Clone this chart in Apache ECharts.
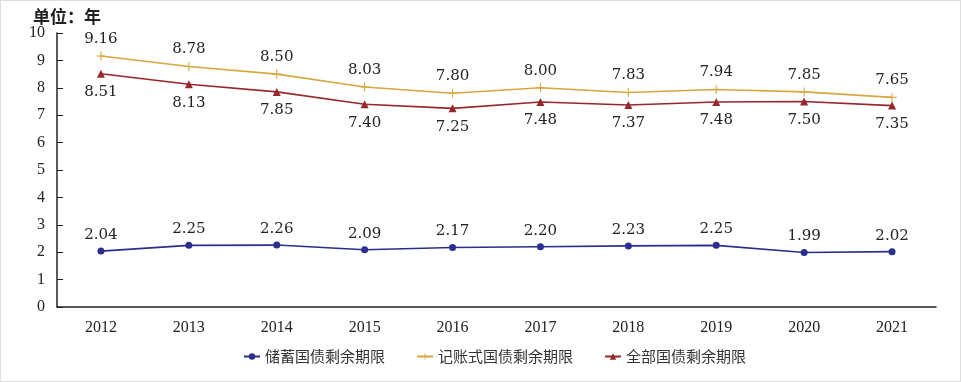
<!DOCTYPE html>
<html><head><meta charset="utf-8">
<script src="https://cdn.jsdelivr.net/npm/echarts@6/dist/echarts.min.js"></script>
<style>html,body{margin:0;padding:0;background:#fff}#c{width:961px;height:382px;box-sizing:border-box;border:1px solid #ddd}</style>
</head><body><div id="c"></div>
<script>
const years = ['2012','2013','2014','2015','2016','2017','2018','2019','2020','2021'];
const savings = [2.04,2.25,2.26,2.09,2.17,2.20,2.23,2.25,1.99,2.02];
const bookEntry = [9.16,8.78,8.50,8.03,7.80,8.00,7.83,7.94,7.85,7.65];
const total = [8.51,8.13,7.85,7.40,7.25,7.48,7.37,7.48,7.50,7.35];
const names = ['储蓄国债剩余期限','记账式国债剩余期限','全部国债剩余期限'];
const yTicks = [0,10,1];

const serif = '"DejaVu Serif","Liberation Serif",serif';
const xserif = '"Liberation Serif","DejaVu Serif",serif';
const cjk = '"Noto Sans CJK SC",sans-serif';
const plus = 'path://M4.4,0 L5.6,0 L5.6,4.4 L10,4.4 L10,5.6 L5.6,5.6 L5.6,10 L4.4,10 L4.4,5.6 L0,5.6 L0,4.4 L4.4,4.4 Z';
const fmt = p => p.value.toFixed(2);
const chart = echarts.init(document.getElementById('c'));
chart.setOption({
  animation:false,
  title:{text:'单位：年',left:27,top:2,textStyle:{fontFamily:cjk,fontSize:17,fontWeight:'bold',color:'#222'}},
  grid:{left:56,right:24,top:32,bottom:74},
  legend:{top:343,left:237,itemGap:31,itemWidth:16,itemHeight:8,
    textStyle:{fontFamily:cjk,fontSize:15,color:'#333'},
    data:names},
  xAxis:{type:'category',data:years,boundaryGap:true,
    axisLine:{lineStyle:{color:'#222',width:1.5}},axisTick:{show:false},
    axisLabel:{fontFamily:xserif,fontSize:16,color:'#222',margin:13}},
  yAxis:{type:'value',min:yTicks[0],max:yTicks[1],interval:yTicks[2],
    axisLine:{show:true,lineStyle:{color:'#222',width:1.5}},
    axisTick:{show:true,inside:true,length:6,lineStyle:{color:'#222'}},
    splitLine:{show:false},
    axisLabel:{fontFamily:xserif,fontSize:16,color:'#222',margin:12}},
  series:[
    {name:names[0],type:'line',data:savings,symbol:'circle',symbolSize:7,
     itemStyle:{color:'#2b2e8c'},lineStyle:{width:1.6,color:'#2b2e8c'},
     label:{show:true,position:'top',distance:5,formatter:fmt,fontFamily:serif,fontSize:15,color:'#222'}},
    {name:names[1],type:'line',data:bookEntry,symbol:plus,symbolSize:9,
     itemStyle:{color:'#d6a73c'},lineStyle:{width:1.6,color:'#d6a73c'},
     label:{show:true,position:'top',distance:5,formatter:fmt,fontFamily:serif,fontSize:15,color:'#222'}},
    {name:names[2],type:'line',data:total,symbol:'triangle',symbolSize:8,
     itemStyle:{color:'#98272c'},lineStyle:{width:1.6,color:'#98272c'},
     label:{show:true,position:'bottom',distance:7,formatter:fmt,fontFamily:serif,fontSize:15,color:'#222'}}
  ]
});
</script></body></html>
